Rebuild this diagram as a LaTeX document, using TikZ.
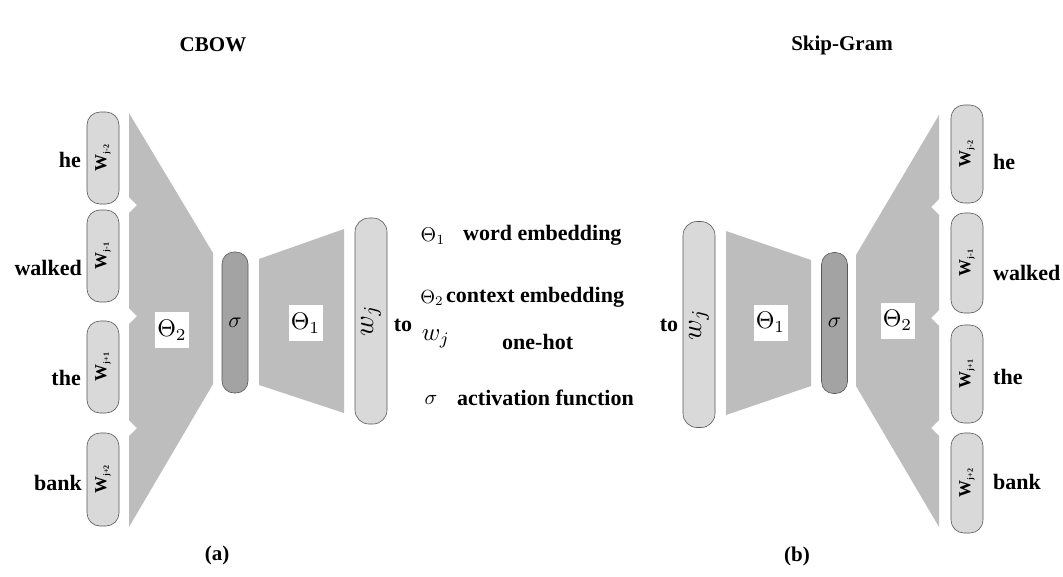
\documentclass[tikz,border=0pt]{standalone}
\usepackage{graphicx}
\usepackage{fontspec}
\setmainfont{Liberation Serif}
\definecolor{trapc}{gray}{0.74}
\definecolor{sigc}{gray}{0.64}
\definecolor{boxc}{gray}{0.85}
\definecolor{edgec}{gray}{0.35}
\newcommand{\mth}[2]{\scalebox{#1}{\fontsize{10}{10}\selectfont$#2$}}
\begin{document}
\begin{tikzpicture}[x=1pt,y=-1pt,
  wbox/.style={draw=edgec, line width=0.6pt, fill=boxc, rounded corners=13pt, inner sep=0pt, rotate=90, minimum height=32pt},
  sbox/.style={draw=edgec, line width=0.6pt, fill=sigc, rounded corners=12pt, inner sep=0pt, minimum width=26pt, minimum height=141pt},
  jbox/.style={draw=edgec, line width=0.6pt, fill=boxc, rounded corners=14pt, inner sep=0pt, minimum width=32pt, minimum height=206pt},
  tlab/.style={fill=white, inner sep=0pt, minimum width=34pt, minimum height=36pt},
  word/.style={font=\fontsize{22}{22}\selectfont\bfseries, inner sep=0pt},
  legtxt/.style={font=\fontsize{22}{22}\selectfont\bfseries, inner sep=0pt, anchor=west},
  legsym/.style={inner sep=0pt},
  title/.style={font=\fontsize{21}{21}\selectfont\bfseries, inner sep=0pt}
]
\useasboundingbox (0,0) rectangle (1063,576);
\fill[white] (0,0) rectangle (1063,576);
\newcommand{\wlab}[1]{{\fontsize{17}{17}\selectfont\bfseries W}\raisebox{-2.5pt}{\fontsize{8}{8}\selectfont\bfseries #1}}
% titles
\node[title] (tcbow) at (213,45) {CBOW};
\node[title] (tskip) at (842,45) {Skip-Gram};
\node[title] (suba) at (217,555) {(a)};
\node[title] (subb) at (797,556) {(b)};
% ---------- CBOW ----------
\fill[trapc] (129,113) -- (213,253) -- (213,384) -- (129,527)
  -- (129,436) -- (137,428) -- (129,420)
  -- (129,324) -- (137,316) -- (129,308)
  -- (129,213) -- (137,205) -- (129,197) -- cycle;
\node[wbox, minimum width=92pt] (l1) at (103,158) {\wlab{j-2}};
\node[wbox, minimum width=92pt] (l2) at (103,256) {\wlab{j-1}};
\node[wbox, minimum width=92pt] (l3) at (103,367) {\wlab{j+1}};
\node[wbox, minimum width=93pt] (l4) at (103,479.5) {\wlab{j+2}};
\node[word, anchor=east] (lw1) at (81,160) {he};
\node[word, anchor=east] (lw2) at (82,268) {walked};
\node[word, anchor=east] (lw3) at (81,378) {the};
\node[word, anchor=east] (lw4) at (82,483) {bank};
\node[tlab] (lt2) at (172,330) {\mth{2.4}{\Theta_2}};
\node[sbox] (ls) at (235,322.5) {\mth{2.2}{\sigma}};
\fill[trapc] (259,259) -- (344,229) -- (344,413) -- (259,385) -- cycle;
\node[tlab] (lt1) at (305.5,323) {\mth{2.4}{\Theta_1}};
\node[jbox] (lj) at (371,321) {\rotatebox{90}{\mth{2.8}{w_j}}};
\node[word] (lto) at (403,325) {to};
% ---------- legend ----------
\node[legsym] (g1s) at (433,236) {\mth{2}{\Theta_1}};
\node[legtxt] (g1t) at (463,235) {word embedding};
\node[legsym] (g2s) at (432,298) {\mth{1.9}{\Theta_2}};
\node[legtxt] (g2t) at (446,297) {context embedding};
\node[legsym] (g3s) at (436,339) {\mth{2.5}{w_j}};
\node[legtxt] (g3t) at (502,342) {one-hot};
\node[legsym] (g4s) at (431,400) {\mth{2.1}{\sigma}};
\node[legtxt] (g4t) at (457,398) {activation function};
% ---------- Skip-Gram ----------
\node[word] (rto) at (669,325) {to};
\node[jbox] (rj) at (699,324.5) {\rotatebox{90}{\mth{2.8}{w_j}}};
\fill[trapc] (726,231) -- (811,260) -- (811,386) -- (726,415) -- cycle;
\node[tlab] (rt1) at (770.5,322.5) {\mth{2.4}{\Theta_1}};
\node[sbox] (rs) at (834.5,323) {\mth{2.2}{\sigma}};
\fill[trapc] (856,255) -- (939,115)
  -- (939,199) -- (931,207) -- (939,215)
  -- (939,310) -- (931,318) -- (939,326)
  -- (939,420) -- (931,428) -- (939,436)
  -- (939,527) -- (856,386) -- cycle;
\node[tlab] (rt2) at (897.5,320.5) {\mth{2.4}{\Theta_2}};
\node[wbox, minimum width=98pt] (r1) at (967,154) {\wlab{j-2}};
\node[wbox, minimum width=100pt] (r2) at (967,263) {\wlab{j-1}};
\node[wbox, minimum width=98pt] (r3) at (967,374) {\wlab{j+1}};
\node[wbox, minimum width=100pt] (r4) at (967,483) {\wlab{j+2}};
\node[word, anchor=west] (rw1) at (993,162) {he};
\node[word, anchor=west] (rw2) at (993,273) {walked};
\node[word, anchor=west] (rw3) at (993,377) {the};
\node[word, anchor=west] (rw4) at (993,482) {bank};
\end{tikzpicture}
\end{document}
